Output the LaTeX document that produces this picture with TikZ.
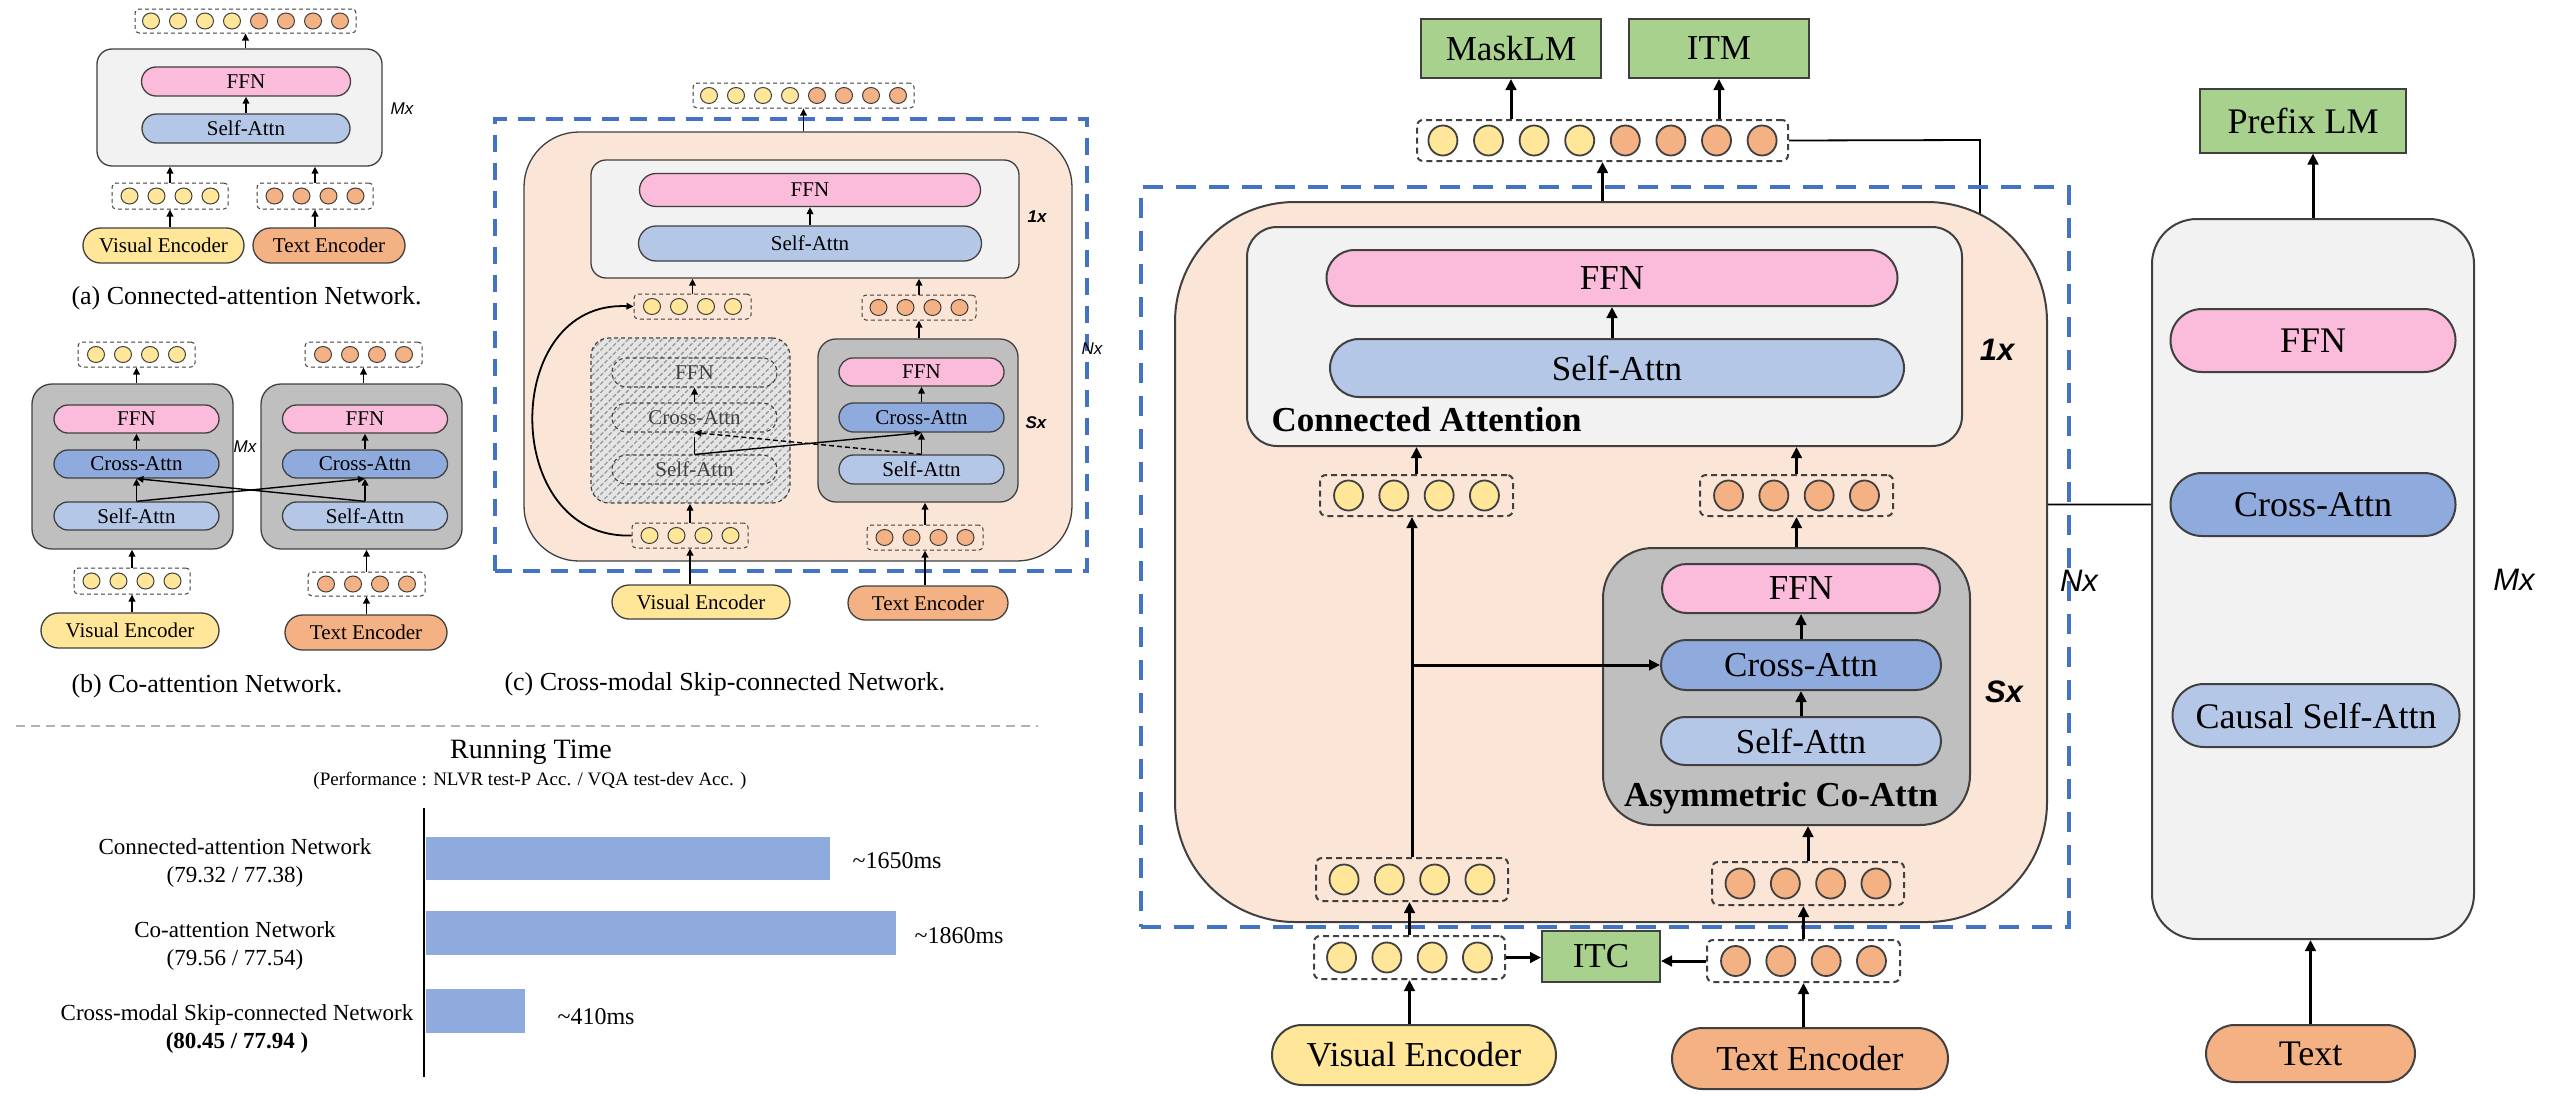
\documentclass[tikz,border=0pt]{standalone}
\usepackage{fontspec}
\setmainfont{Liberation Serif}
\setsansfont{Liberation Sans}
\usetikzlibrary{shapes.misc,shapes.geometric,arrows.meta,patterns.meta,calc}
\pgfdeclarelayer{back}\pgfdeclarelayer{bg}
\pgfsetlayers{back,bg,main}
\definecolor{edge}{HTML}{404040}
\definecolor{tY}{HTML}{FFE699}
\definecolor{tO}{HTML}{F4B183}
\definecolor{pk}{HTML}{FABCDA}
\definecolor{sblue}{HTML}{B4C7E7}
\definecolor{cblue}{HTML}{8FAADC}
\definecolor{gryA}{HTML}{BFBFBF}
\definecolor{lgray}{HTML}{F2F2F2}
\definecolor{peach}{HTML}{FBE5D6}
\definecolor{grn}{HTML}{A9D18E}
\definecolor{bdash}{HTML}{4472C4}
\definecolor{hgray}{HTML}{E4E4E4}
\newcommand\myfs[1]{\fontsize{#1}{#1}\selectfont}
\newcommand\tokrow[9]{%
  \node[#9tbox,wh={#4}{#5}] (#1) at (#2,#3) {};
  \foreach \tc [count=\ti] in {#8}{\node[#9tok,fill=\tc] (#1-\ti) at ({#2+(\ti-(#7+1)/2)*#6},#3) {};}}
\begin{document}
\begin{tikzpicture}[x=1pt,y=-1pt,
  wh/.style 2 args={minimum width=#1pt,minimum height=#2pt},
  spill/.style={rounded rectangle,draw=edge,line width=1.3pt,inner sep=0pt,font=\myfs{21}},
  lpill/.style={rounded rectangle,draw=edge,line width=2pt,inner sep=0pt,font=\myfs{35}},
  dpill/.style={rounded rectangle,draw=edge,line width=2pt,inner sep=0pt,font=\myfs{36}},
  hpill/.style={rounded rectangle,draw=edge,dash pattern=on 4pt off 3pt,line width=1.1pt,inner sep=0pt,font=\myfs{21},text=black!75},
  sbox/.style={rectangle,rounded corners=15pt,draw=edge,line width=1.3pt},
  lbox/.style={rectangle,draw=edge,line width=2pt},
  stok/.style={ellipse,draw=edge,line width=1pt,inner sep=0pt,minimum width=17pt,minimum height=16pt},
  ltok/.style={ellipse,draw=edge,line width=1.8pt,inner sep=0pt,minimum width=29pt,minimum height=30pt},
  stbox/.style={rectangle,draw=edge,dash pattern=on 4pt off 3pt,rounded corners=4pt,line width=1pt},
  ltbox/.style={rectangle,draw=edge,dash pattern=on 6pt off 4pt,rounded corners=6pt,line width=2pt},
  sarr/.style={-{Triangle[length=7pt,width=6.5pt]},line width=1.8pt},
  larr/.style={-{Triangle[length=11pt,width=10.5pt]},line width=3pt},
  gbox/.style={rectangle,fill=grn,draw=edge,line width=2pt,inner sep=0pt,font=\myfs{35}},
  rep/.style={font=\sffamily\itshape\myfs{17}},
  repb/.style={font=\sffamily\bfseries\itshape\myfs{17}},
  lrep/.style={font=\sffamily\itshape\myfs{31}},
  lrepb/.style={font=\sffamily\bfseries\itshape\myfs{31}},
  bluebox/.style={rectangle,draw=bdash,line width=3.5pt,dash pattern=on 20pt off 13pt},
  barbox/.style={rectangle,fill=cblue,inner sep=0pt,anchor=north west},
  labtxt/.style={align=center,font=\fontsize{23}{28}\selectfont},
  captxt/.style={anchor=west,font=\myfs{26}},
  hatchbox/.style={rectangle,rounded corners=18pt,draw=edge,dash pattern=on 4pt off 3pt,line width=1.2pt,
     preaction={fill=hgray},pattern={Lines[angle=45,distance=6pt,line width=1.3pt]},pattern color=black!40}
]
\begin{pgfonlayer}{back}
\fill[white] (0,0) rectangle (2552,1095);
\end{pgfonlayer}
\useasboundingbox (0,0) rectangle (2552,1095);

% ================= (a) =================
\tokrow{aT}{245.5}{21}{221}{24}{27}{8}{tY,tY,tY,tY,tO,tO,tO,tO}{s}
\node[sbox,fill=lgray,wh={285}{117}] (aB) at (239.5,107.5) {};
\node[spill,fill=pk,wh={209}{29}] (aF) at (246,81.5) {FFN};
\node[spill,fill=sblue,wh={208}{29}] (aS) at (246,128.5) {Self-Attn};
\node[rep] (aM) at (402,109) {Mx};
\tokrow{aL}{170}{196}{116}{26}{27}{4}{tY,tY,tY,tY}{s}
\tokrow{aR}{315}{196}{116}{26}{27}{4}{tO,tO,tO,tO}{s}
\node[spill,fill=tY,wh={161}{35}] (aVE) at (163.5,245.5) {Visual Encoder};
\node[spill,fill=tO,wh={152}{35}] (aTE) at (329,245.5) {Text Encoder};
\node[captxt] (aCap) at (68,298) {(a) Connected-attention Network.};
\draw[sarr] (aS.north) -- (aF.south);
\draw[sarr] (aB.north -| aT) -- (aT.south);
\draw[sarr] (aL.north) -- (aL.north |- aB.south);
\draw[sarr] (aR.north) -- (aR.north |- aB.south);
\draw[sarr] (aVE.north -| aL) -- (aL.south);
\draw[sarr] (aTE.north -| aR) -- (aR.south);

% ================= (b) =================
\tokrow{bTL}{136.5}{354.5}{117}{25}{27}{4}{tY,tY,tY,tY}{s}
\tokrow{bTR}{363.5}{354.5}{117}{25}{27}{4}{tO,tO,tO,tO}{s}
\node[sbox,rounded corners=20pt,fill=gryA,wh={201}{165}] (bBL) at (132.5,466.5) {};
\node[sbox,rounded corners=20pt,fill=gryA,wh={201}{165}] (bBR) at (361.5,466.5) {};
\node[spill,fill=pk,wh={165}{28}] (bFL) at (136.5,419) {FFN};
\node[spill,fill=cblue,wh={165}{28}] (bCL) at (136.5,464) {Cross-Attn};
\node[spill,fill=sblue,wh={165}{28}] (bSL) at (136.5,516) {Self-Attn};
\node[spill,fill=pk,wh={165}{28}] (bFR) at (365,419) {FFN};
\node[spill,fill=cblue,wh={165}{28}] (bCR) at (365,464) {Cross-Attn};
\node[spill,fill=sblue,wh={165}{28}] (bSR) at (365,516) {Self-Attn};
\node[rep] (bM) at (245,447) {Mx};
\tokrow{bBotL}{132}{581}{116}{26}{27}{4}{tY,tY,tY,tY}{s}
\tokrow{bBotR}{366.5}{584}{117}{24}{27}{4}{tO,tO,tO,tO}{s}
\node[spill,fill=tY,wh={178}{35}] (bVE) at (130,630.5) {Visual Encoder};
\node[spill,fill=tO,wh={162}{35}] (bTE) at (366,632.5) {Text Encoder};
\node[captxt] (bCap) at (68,686) {(b) Co-attention Network.};
\draw[sarr] (bSL.north) -- (bCL.south);
\draw[sarr] (bCL.north) -- (bFL.south);
\draw[sarr] (bSR.north) -- (bCR.south);
\draw[sarr] (bCR.north) -- (bFR.south);
\draw[sarr,line width=1.4pt] (bSL.north) -- (bCR.south);
\draw[sarr,line width=1.4pt] (bSR.north) -- (bCL.south);
\draw[sarr] (bBL.north -| bTL) -- (bTL.south);
\draw[sarr] (bBR.north -| bTR) -- (bTR.south);
\draw[sarr] (bBotL.north) -- (bBotL.north |- bBL.south);
\draw[sarr] (bBotR.north) -- (bBotR.north |- bBR.south);
\draw[sarr] (bVE.north -| bBotL) -- (bBotL.south);
\draw[sarr] (bTE.north -| bBotR) -- (bBotR.south);

% ================= (c) =================
\tokrow{cT}{803.5}{95.5}{221}{25}{27}{8}{tY,tY,tY,tY,tO,tO,tO,tO}{s}
\node[rectangle,rounded corners=55pt,fill=peach,draw=edge,line width=1.3pt,wh={548}{429}] (cP) at (798,346.5) {};
\node[sbox,fill=lgray,wh={428}{118}] (cG) at (805,219) {};
\node[spill,fill=pk,wh={341}{33}] (cF) at (810,190) {FFN};
\node[spill,fill=sblue,wh={343}{35}] (cS) at (810,243.5) {Self-Attn};
\node[repb] (c1x) at (1037,217) {1x};
\tokrow{cML}{692.5}{306.5}{117}{25}{27}{4}{tY,tY,tY,tY}{s}
\tokrow{cMR}{919}{307.5}{114}{25}{27}{4}{tO,tO,tO,tO}{s}
\node[hatchbox,wh={199}{165}] (cH) at (690.5,420.5) {};
\node[hpill,wh={165}{29}] (cHF) at (694.5,372.5) {FFN};
\node[hpill,wh={165}{29}] (cHC) at (694.5,417.5) {Cross-Attn};
\node[hpill,wh={165}{29}] (cHS) at (694.5,469.5) {Self-Attn};
\node[sbox,rounded corners=18pt,fill=gryA,wh={200}{163}] (cGS) at (918,420.5) {};
\node[spill,fill=pk,wh={165}{28}] (cSF) at (921.5,372) {FFN};
\node[spill,fill=cblue,wh={165}{29}] (cSC) at (921.5,417.5) {Cross-Attn};
\node[spill,fill=sblue,wh={165}{29}] (cSS) at (921.5,469.5) {Self-Attn};
\node[repb] (cSx) at (1036,423) {Sx};
\tokrow{cBL}{690}{535.5}{116}{25}{27}{4}{tY,tY,tY,tY}{s}
\tokrow{cBR}{925}{537.5}{116}{25}{27}{4}{tO,tO,tO,tO}{s}
\node[bluebox,dash pattern=on 17pt off 11pt,wh={592}{452}] (cN) at (791,345) {};
\node[rep] (cNx) at (1092,349) {Nx};
\node[spill,fill=tY,wh={178}{34}] (cVE) at (701,602) {Visual Encoder};
\node[spill,fill=tO,wh={160}{34}] (cTE) at (928,603) {Text Encoder};
\node[captxt] (cCap) at (501,684) {(c) Cross-modal Skip-connected Network.};
\draw[sarr] (cP.north -| cT) -- (cT.south);
\draw[sarr] (cS.north) -- (cF.south);
\draw[sarr] (cML.north) -- (cML.north |- cG.south);
\draw[sarr] (cMR.north) -- (cMR.north |- cG.south);
\draw[sarr] (cHC.north) -- (cHF.south);
\draw[line width=1.4pt] (cHS.north) -- ++(0,-17);
\draw[sarr] (cSS.north) -- (cSC.south);
\draw[sarr] (cSC.north) -- (cSF.south);
\draw[sarr] (cGS.north -| cMR) -- (cMR.south);
\draw[sarr] (cBL.north) -- (cBL.north |- cH.south);
\draw[sarr] (cBR.north) -- (cBR.north |- cGS.south);
\draw[sarr] (cVE.north -| cBL) -- (cBL.south);
\draw[sarr] (cTE.north -| cBR) -- (cBR.south);
\draw[sarr,line width=1.4pt] (cHS.north) -- (cSC.south);
\draw[sarr,line width=1.4pt,dash pattern=on 5pt off 3pt] (cSS.north) -- (cHC.south);
\draw[sarr,line width=1.8pt] (cBL.west) .. controls (500,540) and (500,300) .. (cML.west);

% separator
\draw[black!30,dash pattern=on 9pt off 6pt,line width=1.2pt] (16,726) -- (1038,726);

% ================= chart =================
\node[font=\myfs{28}] (rtT) at (531,752) {Running Time};
\node[font=\myfs{19}] (rtS) at (530,781) {(Performance : NLVR test-P Acc. / VQA test-dev Acc. )};
\coordinate (ax1) at (424,808);
\coordinate (ax2) at (424,1077);
\draw[line width=1.6pt] (ax1) -- (ax2);
\node[barbox,wh={404}{43}] (bar1) at (426,837) {};
\node[barbox,wh={470}{44}] (bar2) at (426,911) {};
\node[barbox,wh={99}{44}] (bar3) at (426,989) {};
\node[anchor=west,font=\myfs{24}] (v1) at (849,861) {\textasciitilde 1650ms};
\node[anchor=west,font=\myfs{24}] (v2) at (911,936) {\textasciitilde 1860ms};
\node[anchor=west,font=\myfs{24}] (v3) at (554,1017) {\textasciitilde 410ms};
\node[labtxt] (l1) at (235,863) {Connected-attention Network\\(79.32 / 77.38)};
\node[labtxt] (l2) at (235,946) {Co-attention Network\\(79.56 / 77.54)};
\node[labtxt] (l3) at (237,1029) {Cross-modal Skip-connected Network\\\textbf{(80.45 / 77.94 )}};

% ================= main diagram =================
\node[gbox,wh={180}{59}] (mlm) at (1511,48.5) {MaskLM};
\node[gbox,wh={180}{59}] (itm) at (1719,48.5) {ITM};
\tokrow{mT}{1602.5}{140.5}{371}{41}{45.6}{8}{tY,tY,tY,tY,tO,tO,tO,tO}{l}
\node[rectangle,rounded corners=120pt,fill=peach,draw=edge,line width=2pt,wh={872}{720}] (mP) at (1611,562) {};
\node[lbox,rounded corners=30pt,fill=lgray,wh={715}{219}] (mG) at (1604.5,336.5) {};
\node[lpill,fill=pk,wh={571}{56}] (mF) at (1612,278) {FFN};
\node[lpill,fill=sblue,wh={574}{58}] (mS) at (1617,368) {Self-Attn};
\node[anchor=west,font=\bfseries\myfs{35}] (mCA) at (1268,420) {Connected Attention};
\node[lrepb] (m1x) at (1997,350) {1x};
\tokrow{mML}{1416.5}{495.5}{193}{41}{45.3}{4}{tY,tY,tY,tY}{l}
\tokrow{mMR}{1796.5}{495.5}{193}{41}{45.3}{4}{tO,tO,tO,tO}{l}
\node[lbox,rounded corners=50pt,fill=gryA,wh={367}{277}] (mAS) at (1786.5,686.5) {};
\node[lpill,fill=pk,wh={278}{49}] (mSF) at (1801,588.5) {FFN};
\node[lpill,fill=cblue,wh={280}{50}] (mSC) at (1801,665) {Cross-Attn};
\node[lpill,fill=sblue,wh={280}{48}] (mSS) at (1801,741) {Self-Attn};
\node[font=\bfseries\myfs{35}] (mASl) at (1781,798) {Asymmetric Co-Attn};
\node[lrepb] (mSx) at (2004,692) {Sx};
\tokrow{mBL}{1412}{879.5}{192}{43}{45.3}{4}{tY,tY,tY,tY}{l}
\tokrow{mBR}{1808}{883.5}{192}{43}{45.3}{4}{tO,tO,tO,tO}{l}
\node[bluebox,wh={928}{740}] (mN) at (1605,557) {};
\node[lrep] (mNx) at (2079,581) {Nx};
\tokrow{mOL}{1409.5}{957.5}{191}{43}{45.3}{4}{tY,tY,tY,tY}{l}
\tokrow{mOR}{1803.5}{961}{193}{42}{45.3}{4}{tO,tO,tO,tO}{l}
\node[gbox,wh={118}{51}] (itc) at (1601,956.5) {ITC};
\node[lpill,fill=tY,wh={284}{60}] (mVE) at (1414,1055) {Visual Encoder};
\node[lpill,fill=tO,wh={276}{61}] (mTE) at (1810,1058.5) {Text Encoder};

\draw[larr] (mT.north -| mlm) -- (mlm.south);
\draw[larr] (mT.north -| itm) -- (itm.south);
\draw[larr] (mP.north -| mT) -- (mT.south);
\draw[larr] (mS.north -| mF) -- (mF.south);
\draw[larr] (mML.north) -- (mML.north |- mG.south);
\draw[larr] (mMR.north) -- (mMR.north |- mG.south);
\draw[larr] (mAS.north -| mMR) -- (mMR.south);
\draw[larr] (mSS.north) -- (mSC.south);
\draw[larr] (mSC.north) -- (mSF.south);
\draw[larr] (mBR.north) -- (mBR.north |- mAS.south);
\draw[larr] (mBL.north) -- (mBL.north |- mML.south);
\draw[larr] (mBL.north |- mSC.west) -- (mSC.west);
\draw[larr] (mOL.north) -- (mOL.north |- mBL.south);
\draw[larr] (mOR.north) -- (mOR.north |- mBR.south);
\draw[larr] (mVE.north -| mOL) -- (mOL.south);
\draw[larr] (mTE.north -| mOR) -- (mOR.south);
\draw[larr] (mOL.east) -- (mOL.east -| itc.west);
\draw[larr] (mOR.west) -- (mOR.west -| itc.east);

% ================= decoder =================
\node[lbox,rounded corners=45pt,fill=lgray,wh={322}{720}] (dB) at (2313,579) {};
\node[dpill,fill=pk,wh={285}{63}] (dF) at (2313,340.5) {FFN};
\node[dpill,fill=cblue,wh={285}{63}] (dC) at (2313,504.5) {Cross-Attn};
\node[dpill,fill=sblue,wh={287}{63}] (dS) at (2316,715.5) {Causal Self-Attn};
\node[gbox,font=\myfs{36},wh={206}{64}] (plm) at (2303,120.5) {Prefix LM};
\node[dpill,fill=tO,wh={209}{57}] (txt) at (2310.5,1053.5) {Text};
\node[lrep] (dMx) at (2514,580) {Mx};
\draw[larr] (dB.north) -- (dB.north |- plm.south);
\draw[larr] (txt.north) -- (txt.north |- dB.south);

\begin{pgfonlayer}{bg}
\coordinate (turn) at (1980,140);
\draw[-{Triangle[length=10pt,width=8pt]},line width=1.8pt] (mT.east) -- (turn) |- (dC.west);
\end{pgfonlayer}
\end{tikzpicture}
\end{document}
